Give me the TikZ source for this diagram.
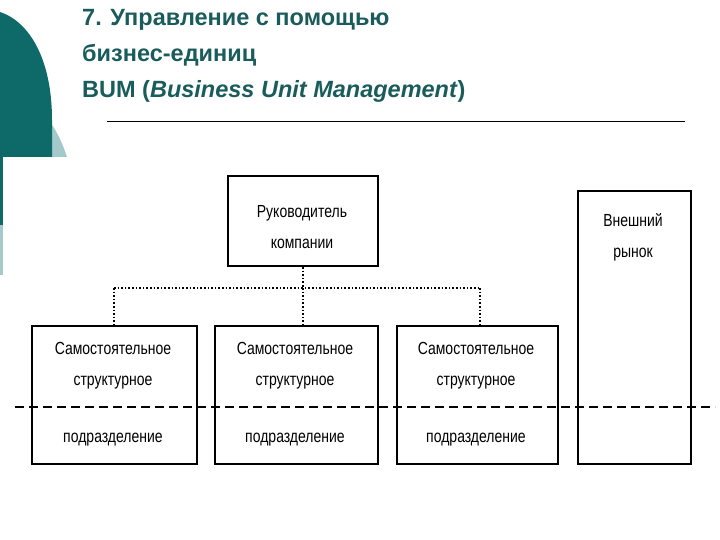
\documentclass[tikz,border=0pt]{standalone}
\usepackage{fontspec}
\setmainfont{Liberation Sans}
\definecolor{teal1}{HTML}{0E6A69}
\definecolor{teal2}{HTML}{A3C9CA}
\definecolor{titlec}{HTML}{1A5C5C}
\begin{document}
\begin{tikzpicture}[x=1pt,y=-1pt,
  box/.style={draw,line width=2pt,inner sep=0pt,anchor=north west},
  lbl/.style={font=\fontsize{17.5}{31}\selectfont,align=center,xscale=0.8},
  dotl/.style={line width=1.6pt,dotted}]
\useasboundingbox (0,0) rectangle (720,540);
% decoration
\fill[teal2] (40,157) -- (67,157) .. controls (63,145) and (58,133) .. (50,122) -- cycle;
\fill[teal1] (0,157) -- (0,12) .. controls (30,22) and (52,60) .. (52,120) -- (52,157) -- cycle;
\fill[teal1] (0,157) rectangle (3,225);
\fill[teal2] (0,225) rectangle (3,275);
% title
\node[anchor=north west,text=titlec,font=\bfseries\fontsize{23.5}{36}\selectfont,align=left,inner sep=0pt] (title) at (82,9)
 {7. Управление с помощью\\бизнес-единиц\\BUM (\textit{Business Unit Management})};
\coordinate (ul1) at (107,121);
\coordinate (ul2) at (685,121);
\draw[line width=0.6pt] (ul1) -- (ul2);
% boxes
\node[box,minimum width=150pt,minimum height=90pt] (top) at (227,175) {};
\node[lbl] (t1) at (302,227) {Руководитель\\компании};
\node[box,minimum width=113pt,minimum height=273pt] (ext) at (577,190) {};
\node[lbl] (t2) at (633,237) {Внешний\\рынок};
\node[box,minimum width=165pt,minimum height=138pt] (b1) at (31,325) {};
\node[box,minimum width=163pt,minimum height=138pt] (b2) at (214,325) {};
\node[box,minimum width=161pt,minimum height=138pt] (b3) at (396,325) {};
\node[lbl] (s1) at (113,366) {Самостоятельное\\структурное};
\node[lbl] (s2) at (295,366) {Самостоятельное\\структурное};
\node[lbl] (s3) at (476,366) {Самостоятельное\\структурное};
\node[lbl] (p1) at (113,440) {подразделение};
\node[lbl] (p2) at (295,440) {подразделение};
\node[lbl] (p3) at (476,440) {подразделение};
% connectors
\coordinate (h) at (top.south |- 0,288);
\coordinate (hl) at (114,288);
\coordinate (hr) at (480,288);
\draw[dotl] (top.south) -- (h);
\draw[dotl] (hl) -- (hr);
\draw[dotl] (hl) -- (hl |- b1.north);
\draw[dotl] (h) -- (h |- b2.north);
\draw[dotl] (hr) -- (hr |- b3.north);
\coordinate (d1) at (15,407);
\coordinate (d2) at (715,407);
\draw[line width=1.8pt,dash pattern=on 9pt off 5pt] (d1) -- (d2);
\end{tikzpicture}
\end{document}
